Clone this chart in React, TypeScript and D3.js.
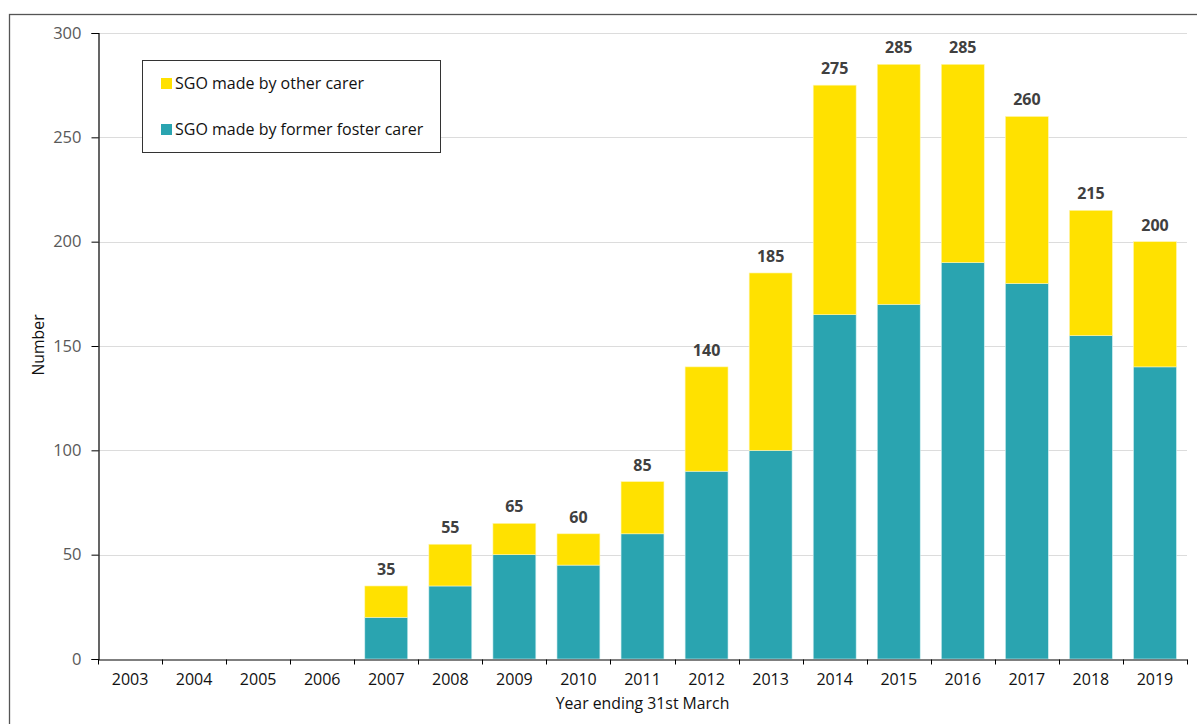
import React, { useEffect, useRef } from "react";
import * as d3 from "d3";

// year ending 31st March
const years = [
  "2003", "2004", "2005", "2006", "2007", "2008", "2009", "2010", "2011",
  "2012", "2013", "2014", "2015", "2016", "2017", "2018", "2019",
];
const fosterCarer = [0, 0, 0, 0, 20, 35, 50, 45, 60, 90, 100, 165, 170, 190, 180, 155, 140];
const otherCarer = [0, 0, 0, 0, 15, 20, 15, 15, 25, 50, 85, 110, 115, 95, 80, 60, 60];
const totals = [null, null, null, null, 35, 55, 65, 60, 85, 140, 185, 275, 285, 285, 260, 215, 200];
const yTicks = [0, 50, 100, 150, 200, 250, 300];

const YELLOW = "#FFE100";
const TEAL = "#2AA4B0";
const FONT = "'Open Sans', 'Noto Sans', sans-serif";

const W = 1197;
const H = 724;
const left = 98;
const right = 1187;
const top = 33;
const bottom = 659;

const App = () => {
  const svgRef = useRef(null);

  useEffect(() => {
    const svg = d3.select(svgRef.current);
    svg.selectAll("*").remove();

    const x = d3.scaleBand().domain(years).range([left, right]).paddingInner(0.33).paddingOuter(0.165);
    const xb = d3.scaleBand().domain(years).range([left, right]);
    const y = d3.scaleLinear().domain([0, 300]).range([bottom, top]);

    // outer frame
    svg.append("rect")
      .attr("x", 9.5).attr("y", 14.5)
      .attr("width", W + 20).attr("height", H + 20)
      .attr("fill", "none").attr("stroke", "#555").attr("stroke-width", 1.3);

    // gridlines
    svg.append("g")
      .selectAll("line")
      .data(yTicks.filter((t) => t > 0))
      .join("line")
      .attr("x1", left).attr("x2", right)
      .attr("y1", (d) => Math.round(y(d)) + 0.5).attr("y2", (d) => Math.round(y(d)) + 0.5)
      .attr("stroke", "#dcdcdc").attr("stroke-width", 1);

    const rows = years.map((yr, i) => ({ yr, f: fosterCarer[i], o: otherCarer[i], t: totals[i] }));

    // bars
    svg.append("g")
      .selectAll("rect")
      .data(rows.filter((d) => d.f > 0))
      .join("rect")
      .attr("x", (d) => x(d.yr))
      .attr("width", x.bandwidth())
      .attr("y", (d) => y(d.f))
      .attr("height", (d) => y(0) - y(d.f))
      .attr("fill", TEAL)
      .attr("stroke", "#cfeef1").attr("stroke-width", 0.6);

    svg.append("g")
      .selectAll("rect")
      .data(rows.filter((d) => d.o > 0))
      .join("rect")
      .attr("x", (d) => x(d.yr))
      .attr("width", x.bandwidth())
      .attr("y", (d) => y(d.f + d.o))
      .attr("height", (d) => y(d.f) - y(d.f + d.o))
      .attr("fill", YELLOW)
      .attr("stroke", "#fff6b0").attr("stroke-width", 0.6);

    // total labels
    svg.append("g")
      .selectAll("text")
      .data(rows.filter((d) => d.t != null))
      .join("text")
      .attr("x", (d) => x(d.yr) + x.bandwidth() / 2)
      .attr("y", (d) => y(d.t) - 11)
      .attr("text-anchor", "middle")
      .attr("font-family", FONT)
      .attr("font-size", 16)
      .attr("font-weight", "bold")
      .attr("fill", "#404040")
      .text((d) => d.t);

    // y axis
    const yAxis = svg.append("g")
      .attr("transform", `translate(${left + 0.5},0)`)
      .call(d3.axisLeft(y).tickValues(yTicks).tickSize(7).tickPadding(10));
    yAxis.select(".domain").attr("stroke", "#000").attr("stroke-width", 1.2);
    yAxis.selectAll(".tick line").attr("stroke", "#000");
    yAxis.selectAll("text")
      .attr("font-family", FONT).attr("font-size", 16.5).attr("fill", "#595959");

    // x axis
    const xAxis = svg.append("g")
      .attr("transform", `translate(0,${bottom + 0.5})`)
      .call(d3.axisBottom(xb).tickSize(0).tickPadding(11));
    xAxis.select(".domain").attr("stroke", "#000").attr("stroke-width", 1.2);
    xAxis.selectAll("text")
      .attr("font-family", FONT).attr("font-size", 16).attr("fill", "#111").attr("dy", "0.88em");
    xAxis.append("g")
      .selectAll("line")
      .data(years.map((yr) => xb(yr)).concat([right]))
      .join("line")
      .attr("x1", (d) => Math.round(d) + 0.5).attr("x2", (d) => Math.round(d) + 0.5)
      .attr("y1", 0).attr("y2", 5)
      .attr("stroke", "#000");

    // axis titles
    svg.append("text")
      .attr("x", (left + right) / 2).attr("y", 709)
      .attr("text-anchor", "middle")
      .attr("font-family", FONT).attr("font-size", 15.8).attr("fill", "#111")
      .text("Year ending 31st March");

    svg.append("text")
      .attr("transform", `translate(44,345) rotate(-90)`)
      .attr("text-anchor", "middle")
      .attr("font-family", FONT).attr("font-size", 15.8).attr("fill", "#111")
      .text("Number");

    // legend
    const legend = svg.append("g");
    legend.append("rect")
      .attr("x", 142.5).attr("y", 60.5).attr("width", 298).attr("height", 92)
      .attr("fill", "#fff").attr("stroke", "#333").attr("stroke-width", 1);
    const items = [
      { label: "SGO made by other carer", color: YELLOW, cy: 83 },
      { label: "SGO made by former foster carer", color: TEAL, cy: 129 },
    ];
    items.forEach((it) => {
      legend.append("rect")
        .attr("x", 161).attr("y", it.cy - 5).attr("width", 11).attr("height", 11)
        .attr("fill", it.color);
      legend.append("text")
        .attr("x", 175).attr("y", it.cy + 6)
        .attr("font-family", FONT).attr("font-size", 16).attr("fill", "#111")
        .text(it.label);
    });
  }, []);

  return (
    <svg
      ref={svgRef}
      width={W}
      height={H}
      style={{ position: "absolute", left: 0, top: 0, background: "#fff" }}
    ></svg>
  );
};

export default App;
